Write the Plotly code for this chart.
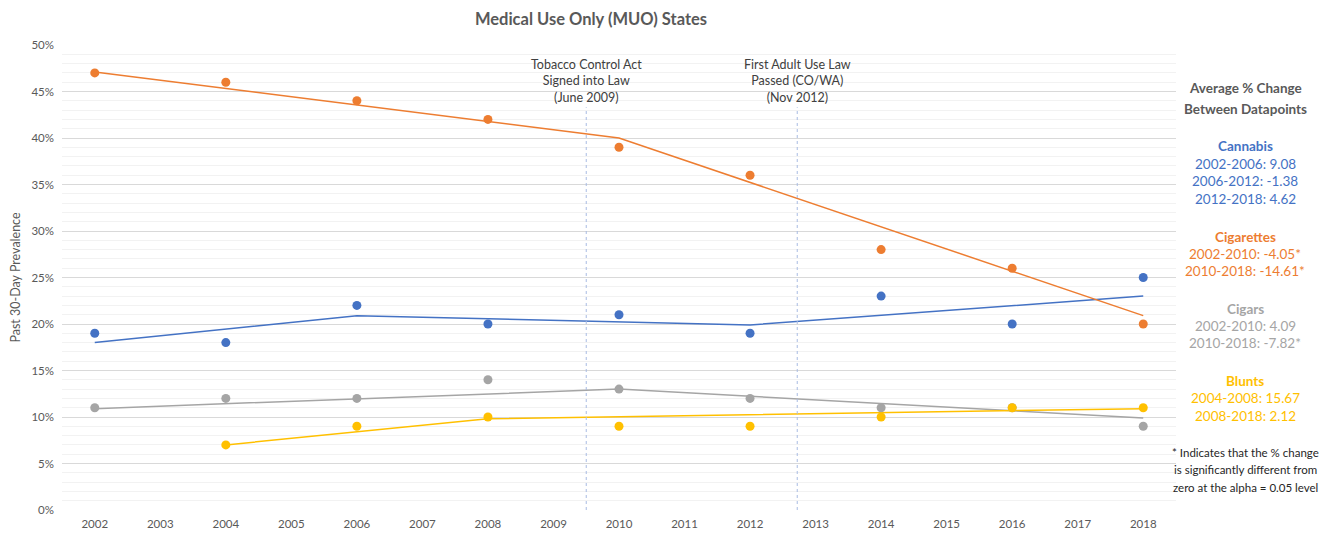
import plotly.graph_objects as go

years = [2002, 2004, 2006, 2008, 2010, 2012, 2014, 2016, 2018]
cannabis = [19, 18, 22, 20, 21, 19, 23, 20, 25]
cigarettes = [47, 46, 44, 42, 39, 36, 28, 26, 20]
cigars = [11, 12, 12, 14, 13, 12, 11, 11, 9]
blunt_years = [2004, 2006, 2008, 2010, 2012, 2014, 2016, 2018]
blunts = [7, 9, 10, 9, 9, 10, 11, 11]

# joinpoint trend lines
cannabis_trend_x = [2002, 2006, 2012, 2018]
cannabis_trend_y = [18.0, 20.9, 19.9, 23.0]
cig_trend_x = [2002, 2010, 2018]
cig_trend_y = [47.1, 40.0, 20.9]
cigar_trend_x = [2002, 2010, 2018]
cigar_trend_y = [10.9, 13.0, 9.9]
blunt_trend_x = [2004, 2008, 2018]
blunt_trend_y = [7.0, 9.8, 10.9]

events_x = [2009.5, 2012.72]
events_text = ["Tobacco Control Act<br>Signed into Law<br>(June 2009)",
               "First Adult Use Law<br>Passed (CO/WA)<br>(Nov 2012)"]

BLUE = "#4472C4"
ORANGE = "#ED7D31"
GREY = "#A5A5A5"
YELLOW = "#FFC000"
TEXT = "#595959"
FONT = "Lato"

# page has an 8px body margin
OFF = 8
W, H = 1330 - 2 * OFF, 534 - OFF
PLOT_L, PLOT_R, PLOT_T, PLOT_B = 62 - OFF, 1176 - OFF, 45 - OFF, 510 - OFF

fig = go.Figure()

series = [
    (cigars, years, cigar_trend_x, cigar_trend_y, GREY),
    (cannabis, years, cannabis_trend_x, cannabis_trend_y, BLUE),
    (cigarettes, years, cig_trend_x, cig_trend_y, ORANGE),
    (blunts, blunt_years, blunt_trend_x, blunt_trend_y, YELLOW),
]
for vals, xs, tx, ty, col in series:
    fig.add_trace(go.Scatter(x=tx, y=ty, mode="lines",
                             line=dict(color=col, width=1.5), hoverinfo="skip"))
for vals, xs, tx, ty, col in series:
    fig.add_trace(go.Scatter(x=xs, y=vals, mode="markers",
                             marker=dict(color=col, size=9)))

for ex, et in zip(events_x, events_text):
    fig.add_shape(type="line", x0=ex, x1=ex, y0=0, y1=43.3, xref="x", yref="y",
                  line=dict(color="#A9BBE3", width=1, dash="dot"))
    fig.add_annotation(x=ex, y=46.1, xref="x", yref="y", text=et, showarrow=False,
                       font=dict(family=FONT, size=12.5, color="#404040"),
                       yanchor="middle", xanchor="center")

def px_to_paper_y(py):
    return ((PLOT_B + OFF) - py) / (PLOT_B - PLOT_T)

panel_x = (1245 - (PLOT_L + OFF)) / (PLOT_R - PLOT_L)
panel = [
    ("<b>Average % Change</b>", 88, TEXT, 13.5),
    ("<b>Between Datapoints</b>", 109, TEXT, 13.5),
    ("<b>Cannabis</b>", 146, BLUE, 13.5),
    ("2002-2006: 9.08", 164, BLUE, 13.5),
    ("2006-2012: -1.38", 181, BLUE, 13.5),
    ("2012-2018: 4.62", 199, BLUE, 13.5),
    ("<b>Cigarettes</b>", 237, ORANGE, 13.5),
    ("2002-2010: -4.05*", 254, ORANGE, 13.5),
    ("2010-2018: -14.61*", 271, ORANGE, 13.5),
    ("<b>Cigars</b>", 309, GREY, 13.5),
    ("2002-2010: 4.09", 326, GREY, 13.5),
    ("2010-2018: -7.82*", 343, GREY, 13.5),
    ("<b>Blunts</b>", 381, YELLOW, 13.5),
    ("2004-2008: 15.67", 398, YELLOW, 13.5),
    ("2008-2018: 2.12", 416, YELLOW, 13.5),
    ("* Indicates that the % change", 452, "#262626", 11.5),
    ("is significantly different from", 469, "#262626", 11.5),
    ("zero at the alpha = 0.05 level", 487, "#262626", 11.5),
]
for txt, py, col, sz in panel:
    fig.add_annotation(x=panel_x, y=px_to_paper_y(py), xref="paper", yref="paper",
                       text=txt, showarrow=False, font=dict(family=FONT, size=sz, color=col),
                       xanchor="center", yanchor="middle")

fig.update_layout(
    width=W, height=H,
    margin=dict(l=PLOT_L, r=W - PLOT_R, t=PLOT_T, b=H - PLOT_B, autoexpand=False),
    paper_bgcolor="white", plot_bgcolor="white",
    showlegend=False,
    title=dict(text="<b>Medical Use Only (MUO) States</b>", x=(591 - OFF) / W, xanchor="center",
               y=1 - (19 - OFF) / H, yanchor="middle",
               font=dict(family=FONT, size=16.5, color=TEXT)),
    font=dict(family=FONT, color=TEXT),
)
fig.update_xaxes(range=[2001.5, 2018.5], dtick=1, tick0=2002, showgrid=False,
                 zeroline=False, showline=False, ticks="", automargin=False,
                 ticklabelstandoff=5,
                 tickfont=dict(family=FONT, size=11.5, color=TEXT))
fig.update_yaxes(range=[0, 50], dtick=5, ticksuffix="%", showgrid=True,
                 gridcolor="#D9D9D9", gridwidth=1, zeroline=False, showline=False,
                 automargin=False, ticklabelstandoff=7,
                 minor=dict(dtick=1, showgrid=True, gridcolor="#F2F2F2", gridwidth=1),
                 tickfont=dict(family=FONT, size=11.5, color=TEXT),
                 title=dict(text="Past 30-Day Prevalence", standoff=12,
                            font=dict(family=FONT, size=12.5, color=TEXT)))

fig.write_html("out.html")
